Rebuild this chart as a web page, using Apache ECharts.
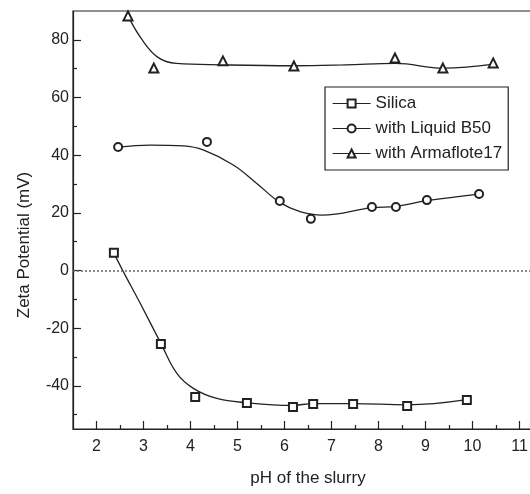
<!DOCTYPE html>
<html>
<head>
<meta charset="utf-8">
<script src="https://cdn.jsdelivr.net/npm/echarts@6/dist/echarts.min.js"></script>
<style>
  html, body { margin: 0; padding: 0; background: #fff; }
  #chart { width: 530px; height: 494px; }
</style>
</head>
<body>
<div id="chart"></div>
<script>
// measured points
const phSilica = [2.37, 3.37, 4.10, 5.20, 6.18, 6.61, 7.46, 8.61, 9.88]
const zetaSilica = [6.1, -25.5, -43.9, -46.0, -47.4, -46.3, -46.3, -47.0, -44.9]
const phB50 = [2.46, 4.35, 5.90, 6.56, 7.86, 8.37, 9.03, 10.14]
const zetaB50 = [42.8, 44.6, 24.1, 17.9, 22.0, 22.0, 24.4, 26.5]
const phArma = [2.67, 3.22, 4.69, 6.20, 8.35, 9.37, 10.44]
const zetaArma = [88.3, 70.2, 72.7, 70.9, 73.7, 70.2, 72.0]

// fitted curves
const fitPhSilica = [2.37, 2.57, 2.93, 3.37, 3.71, 4.06, 4.56, 5.2, 6.15, 6.61, 7.46, 8.61, 9.88]
const fitZetaSilica = [6.0, -0.4, -11.4, -25.3, -35.7, -40.9, -44.4, -45.9, -46.8, -46.2, -46.2, -46.6, -44.8]
const fitPhB50 = [2.46, 3.14, 3.85, 4.27, 4.91, 5.41, 5.9, 6.33, 6.8, 7.86, 8.37, 9.03, 10.14]
const fitZetaB50 = [42.8, 43.5, 43.2, 41.8, 36.6, 30.2, 23.6, 20.4, 19.2, 21.8, 22.2, 24.2, 26.5]
const fitPhArma = [2.67, 2.95, 3.3, 3.7, 4.7, 6.2, 7.3, 8.36, 9.38, 10.45]
const fitZetaArma = [88.3, 80.5, 74.0, 71.8, 71.3, 71.0, 71.3, 71.8, 70.2, 71.6]

const xMajor = [2, 3, 4, 5, 6, 7, 8, 9, 10, 11]
const xMinor = [2.5, 3.5, 4.5, 5.5, 6.5, 7.5, 8.5, 9.5, 10.5]
const yMajor = [-40, -20, 0, 20, 40, 60, 80]
const yMinor = [-50, -30, -10, 10, 30, 50, 70]

const names = ['Silica', 'with Liquid B50', 'with Armaflote17']

const ink = '#222'
const font = 'Liberation Sans, Arial, sans-serif'

function zip (xs, ys) {
  return xs.map((x, i) => [x, ys[i]])
}

function fitSeries (name, xs, ys) {
  return {
    name: name,
    type: 'line',
    data: zip(xs, ys),
    smooth: 0.4,
    symbol: 'none',
    silent: true,
    z: 2,
    lineStyle: { color: ink, width: 1.3 }
  }
}

function pointSeries (name, xs, ys, symbol, size) {
  return {
    name: name,
    type: 'line',
    data: zip(xs, ys),
    symbol: symbol,
    symbolSize: size,
    showAllSymbol: true,
    z: 5,
    itemStyle: { color: ink, borderWidth: 1.3 },
    lineStyle: { opacity: 0 }
  }
}

const chart = echarts.init(document.getElementById('chart'))

const zeroLine = fitSeries('zero', [], [])
zeroLine.markLine = {
  silent: true,
  symbol: 'none',
  label: { show: false },
  lineStyle: { color: '#666', type: [2, 2], width: 1.5 },
  data: [{ yAxis: 0 }]
}

chart.setOption({
  animation: false,
  backgroundColor: '#fff',
  textStyle: { fontFamily: font, color: ink },
  grid: {
    left: 73,
    right: -13,
    top: 11,
    bottom: 65,
    show: true,
    borderColor: ink,
    borderWidth: 1.2,
    outerBoundsMode: 'none'
  },
  legend: {
    data: names,
    orient: 'vertical',
    left: 325,
    top: 87,
    padding: [8, 6, 8, 7],
    itemWidth: 38,
    itemHeight: 10,
    itemGap: 8,
    selectedMode: false,
    borderColor: ink,
    borderWidth: 1.2,
    backgroundColor: '#fff',
    textStyle: { fontFamily: font, fontSize: 17, color: ink },
    lineStyle: { color: ink, width: 1.2, opacity: 1 }
  },
  xAxis: [
    {
      type: 'value',
      min: 1.5,
      max: 11.5,
      position: 'bottom',
      name: 'pH of the slurry',
      nameLocation: 'middle',
      nameGap: 41,
      nameTextStyle: { fontSize: 17, color: ink },
      axisLine: { onZero: false, lineStyle: { color: ink, width: 1.2 } },
      axisTick: { inside: true, length: 8, customValues: xMajor, lineStyle: { color: ink, width: 1.2 } },
      axisLabel: { customValues: xMajor, margin: 10, fontSize: 16, color: ink },
      splitLine: { show: false }
    },
    {
      // half-unit ticks, moved down onto the bottom axis
      type: 'value',
      min: 1.5,
      max: 11.5,
      position: 'top',
      offset: -418,
      axisLine: { show: false, onZero: false },
      axisTick: { inside: false, length: 4, customValues: xMinor, lineStyle: { color: ink, width: 1.2 } },
      axisLabel: { show: false },
      splitLine: { show: false }
    }
  ],
  yAxis: [
    {
      type: 'value',
      min: -55,
      max: 90,
      position: 'left',
      name: 'Zeta Potential (mV)',
      nameLocation: 'middle',
      nameGap: 40,
      nameTextStyle: { fontSize: 17, color: ink, padding: [0, 50, 0, 0] },
      axisLine: { onZero: false, lineStyle: { color: ink, width: 1.2 } },
      axisTick: { inside: true, length: 8, customValues: yMajor, lineStyle: { color: ink, width: 1.2 } },
      axisLabel: { customValues: yMajor, margin: 4, fontSize: 16, color: ink },
      splitLine: { show: false }
    },
    {
      // 10 mV ticks, moved onto the left axis
      type: 'value',
      min: -55,
      max: 90,
      position: 'right',
      offset: -470,
      axisLine: { show: false, onZero: false },
      axisTick: { inside: false, length: 4, customValues: yMinor, lineStyle: { color: ink, width: 1.2 } },
      axisLabel: { show: false },
      splitLine: { show: false }
    }
  ],
  series: [
    zeroLine,
    fitSeries('fit silica', fitPhSilica, fitZetaSilica),
    fitSeries('fit b50', fitPhB50, fitZetaB50),
    fitSeries('fit arma', fitPhArma, fitZetaArma),
    pointSeries(names[0], phSilica, zetaSilica, 'emptyRect', 8),
    pointSeries(names[1], phB50, zetaB50, 'emptyCircle', 8),
    pointSeries(names[2], phArma, zetaArma, 'emptyTriangle', 9)
  ]
})
</script>
</body>
</html>
